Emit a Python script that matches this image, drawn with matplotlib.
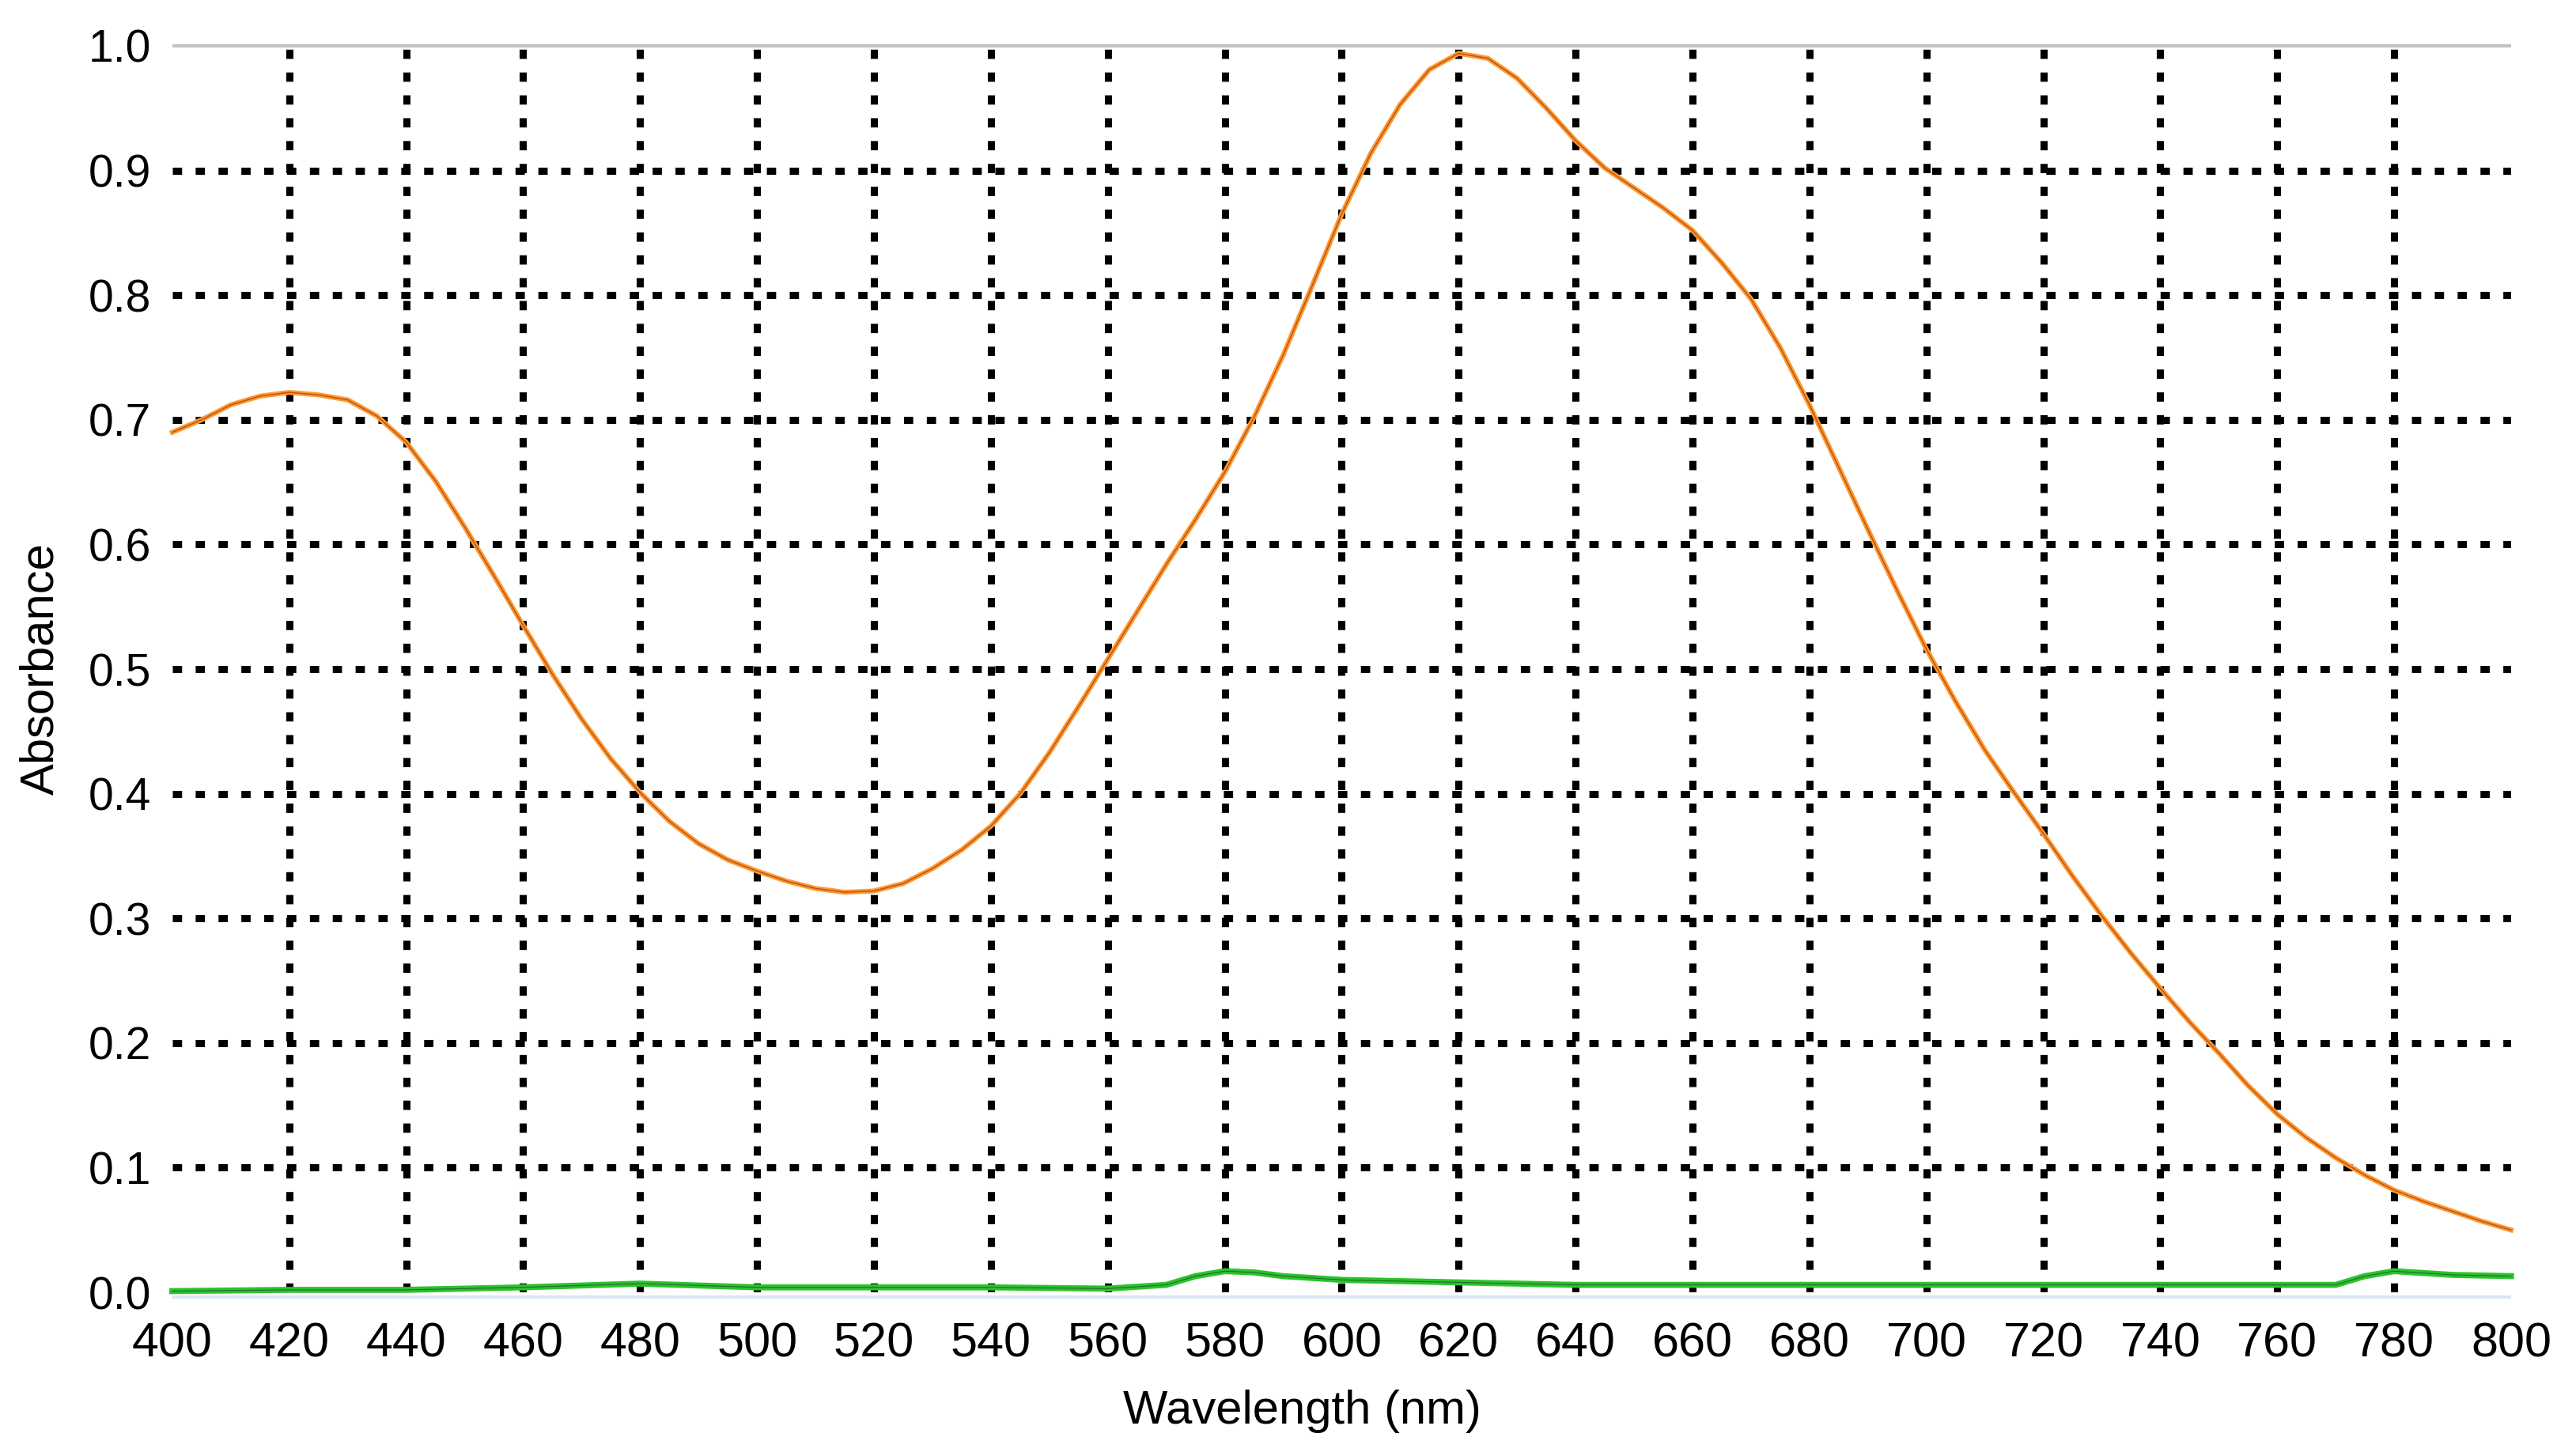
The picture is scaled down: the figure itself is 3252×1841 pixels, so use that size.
import numpy as np
import matplotlib
matplotlib.use('Agg')
import matplotlib.pyplot as plt

plt.rcParams['font.family'] = ['Liberation Sans', 'DejaVu Sans']

# sample spectrum (orange), read every 5 nm
wl_sample = list(range(400, 801, 5))
abs_sample = [0.690, 0.700, 0.712, 0.719, 0.722, 0.720, 0.716, 0.703, 0.682, 0.651,
              0.614, 0.575, 0.535, 0.496, 0.460, 0.428, 0.401, 0.378, 0.360, 0.347,
              0.338, 0.330, 0.324, 0.321, 0.322, 0.328, 0.340, 0.355, 0.374, 0.400,
              0.433, 0.470, 0.508, 0.546, 0.584, 0.620, 0.658, 0.702, 0.752, 0.808,
              0.865, 0.914, 0.953, 0.981, 0.994, 0.990, 0.974, 0.950, 0.924, 0.902,
              0.886, 0.870, 0.852, 0.826, 0.797, 0.758, 0.712, 0.662, 0.612, 0.563,
              0.516, 0.474, 0.435, 0.401, 0.368, 0.334, 0.302, 0.272, 0.244, 0.217,
              0.192, 0.166, 0.143, 0.124, 0.108, 0.094, 0.082, 0.073, 0.065, 0.057,
              0.050]

# blank / baseline (green)
wl_blank = [400, 420, 440, 460, 480, 500, 520, 540, 560, 570, 575, 580, 585, 590, 600,
            620, 640, 660, 680, 700, 720, 740, 760, 770, 775, 780, 790, 800]
abs_blank = [0.001, 0.002, 0.002, 0.004, 0.007, 0.004, 0.004, 0.004, 0.003, 0.006, 0.013,
             0.017, 0.016, 0.013, 0.010, 0.008, 0.006, 0.006, 0.006, 0.006, 0.006, 0.006,
             0.006, 0.006, 0.013, 0.017, 0.014, 0.013]

x_ticks = np.arange(400, 801, 20)
y_ticks = np.round(np.arange(0, 1.01, 0.1), 1)

fig = plt.figure(figsize=(32.52, 18.41), dpi=100)
ax = fig.add_axes([0.067, 0.1124, 0.9093, 0.8561])

# dotted grid, only on the inner ticks
dot = (0, (1.3, 1.9))
ax.vlines(x_ticks[1:-1], 0, 1.0, colors='black', linestyles=dot, linewidth=6.5, zorder=1)
ax.hlines(y_ticks[1:-1], 400, 800, colors='black', linestyles=dot, linewidth=6.5, zorder=1)
ax.hlines(1.0, 400, 800, colors='#c3c3bf', linewidth=3, zorder=0.5, clip_on=False)
ax.hlines(-0.004, 400, 800, colors='#dbe4f4', linewidth=3, zorder=0.5, clip_on=False)

ax.plot(wl_blank, abs_blank, color='#2cc22c', linewidth=5.5, zorder=3, clip_on=False)
ax.plot(wl_blank, abs_blank, color='#1f6b2a', linewidth=0.8, zorder=3, clip_on=False)
ax.plot(wl_sample, abs_sample, color='#fb9a33', linewidth=4.5, zorder=4, clip_on=False)
ax.plot(wl_sample, abs_sample, color='#c4500f', linewidth=1.1, zorder=4, clip_on=False)

ax.set_xlim(400, 800)
ax.set_ylim(0, 1.0)
ax.set_xticks(x_ticks)
ax.set_yticks(y_ticks)
ax.set_yticklabels(['%.1f' % v for v in y_ticks])
ax.tick_params(axis='x', length=0, labelsize=44, pad=27)
ax.tick_params(axis='y', length=0, labelsize=41, pad=19)
for s in ax.spines.values():
    s.set_visible(False)

ax.set_xlabel('Wavelength (nm)', fontsize=43)
ax.set_ylabel('Absorbance', fontsize=43)
ax.xaxis.set_label_coords(0.483, -0.078)
ax.yaxis.set_label_coords(-0.047, 0.5)

fig.savefig('out.png', dpi=100, facecolor='white')
